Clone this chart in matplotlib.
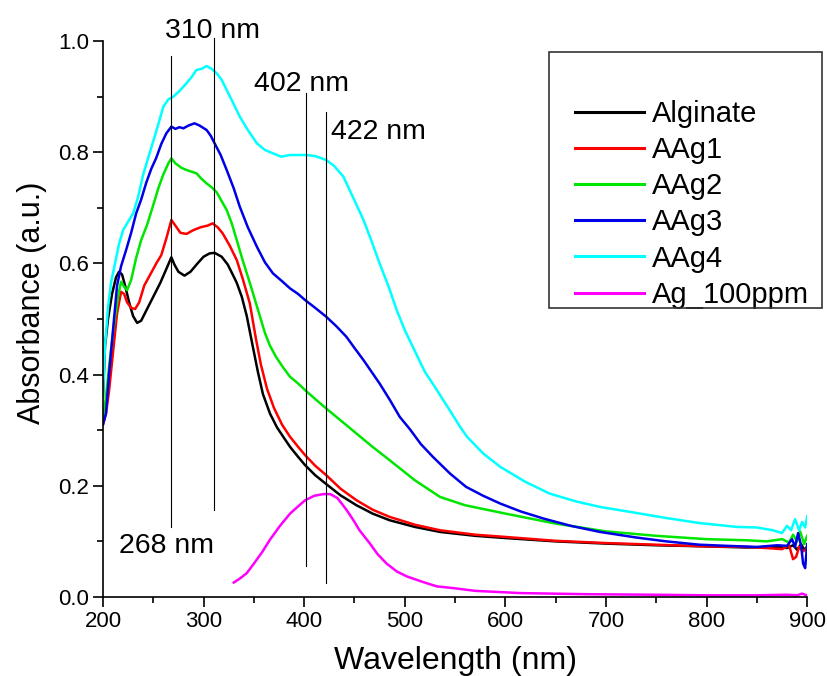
#!/usr/bin/env python3
import matplotlib
matplotlib.use("Agg")
import matplotlib.pyplot as plt
from matplotlib.patches import Rectangle
from matplotlib.ticker import MultipleLocator, FormatStrFormatter

plt.rcParams["font.family"] = ["Liberation Sans", "DejaVu Sans"]

# UV-vis spectra (wavelength nm, absorbance a.u.)
alginate_wl = [200, 202, 205, 209, 213, 216, 219, 222, 226, 230, 234, 238, 243, 250, 257, 263, 268, 271, 275, 281,
               287, 294, 300, 306, 311, 318, 324, 329, 333, 338, 343, 349, 354, 359, 366, 373, 380, 386, 394, 401,
               411, 422, 436, 452, 468, 485, 510, 535, 570, 600, 650, 700, 750, 800, 840, 870, 880, 886, 890, 894,
               897, 900]
alginate_abs = [0.36, 0.45, 0.50, 0.545, 0.575, 0.585, 0.58, 0.56, 0.53, 0.505, 0.493, 0.497, 0.515, 0.54, 0.565,
                0.59, 0.611, 0.598, 0.585, 0.578, 0.585, 0.60, 0.612, 0.618, 0.619, 0.612, 0.598, 0.58, 0.565, 0.54,
                0.505, 0.45, 0.405, 0.365, 0.33, 0.305, 0.286, 0.27, 0.252, 0.237, 0.219, 0.203, 0.183, 0.165, 0.150,
                0.138, 0.126, 0.117, 0.110, 0.106, 0.100, 0.096, 0.093, 0.091, 0.089, 0.090, 0.088, 0.093, 0.085,
                0.095, 0.085, 0.09]

aag1_wl = [200, 203, 206, 210, 214, 218, 221, 224, 228, 232, 236, 241, 247, 253, 258, 263, 268, 272, 277, 283, 290,
           297, 304, 309, 314, 319, 326, 333, 339, 346, 352, 357, 363, 370, 378, 386, 394, 401, 411, 422, 436, 452,
           468, 485, 510, 535, 570, 600, 650, 700, 750, 800, 840, 860, 875, 882, 886, 889, 892, 896, 900]
aag1_abs = [0.31, 0.33, 0.37, 0.44, 0.51, 0.549, 0.545, 0.53, 0.52, 0.518, 0.53, 0.56, 0.58, 0.60, 0.615, 0.645,
            0.678, 0.668, 0.655, 0.653, 0.66, 0.665, 0.668, 0.672, 0.665, 0.654, 0.632, 0.606, 0.572, 0.528, 0.465,
            0.418, 0.375, 0.34, 0.31, 0.288, 0.27, 0.255, 0.236, 0.219, 0.195, 0.174, 0.157, 0.144, 0.13, 0.12,
            0.112, 0.108, 0.101, 0.097, 0.094, 0.091, 0.090, 0.088, 0.086, 0.093, 0.068, 0.072, 0.09, 0.082, 0.088]

aag2_wl = [200, 203, 207, 211, 215, 218, 221, 224, 228, 233, 238, 244, 250, 255, 260, 265, 268, 272, 278, 283, 288,
           293, 298, 303, 308, 313, 318, 323, 328, 333, 339, 346, 351, 356, 361, 366, 372, 379, 386, 394, 401, 411,
           422, 436, 452, 468, 485, 510, 535, 560, 600, 650, 700, 750, 800, 840, 860, 875, 882, 886, 890, 893, 897,
           900]
aag2_abs = [0.32, 0.36, 0.43, 0.49, 0.54, 0.567, 0.558, 0.552, 0.57, 0.61, 0.642, 0.67, 0.705, 0.735, 0.76, 0.78,
            0.789, 0.78, 0.772, 0.768, 0.765, 0.762, 0.752, 0.744, 0.737, 0.728, 0.712, 0.696, 0.672, 0.642, 0.605,
            0.565, 0.535, 0.505, 0.475, 0.452, 0.432, 0.413, 0.396, 0.384, 0.372, 0.356, 0.339, 0.318, 0.294, 0.27,
            0.246, 0.21, 0.18, 0.165, 0.150, 0.132, 0.118, 0.110, 0.104, 0.102, 0.10, 0.104, 0.098, 0.112, 0.10,
            0.118, 0.095, 0.11]

aag3_wl = [200, 203, 206, 210, 214, 218, 223, 228, 233, 238, 243, 248, 253, 258, 263, 268, 272, 276, 280, 285, 291,
           296, 303, 307, 311, 317, 323, 330, 336, 344, 353, 361, 369, 378, 386, 394, 401, 411, 422, 432, 442, 450,
           459, 467, 475, 485, 495, 505, 516, 528, 545, 561, 578, 595, 615, 638, 665, 694, 730, 760, 793, 820, 850,
           870, 880, 885, 888, 891, 894, 896, 898, 900]
aag3_abs = [0.31, 0.33, 0.40, 0.48, 0.56, 0.595, 0.624, 0.655, 0.69, 0.715, 0.745, 0.77, 0.79, 0.815, 0.834, 0.846,
            0.842, 0.845, 0.843, 0.848, 0.852, 0.848, 0.84, 0.83, 0.816, 0.795, 0.768, 0.735, 0.702, 0.665, 0.63,
            0.602, 0.582, 0.568, 0.555, 0.545, 0.534, 0.52, 0.504, 0.487, 0.468, 0.448, 0.426, 0.405, 0.384, 0.355,
            0.324, 0.302, 0.275, 0.252, 0.222, 0.198, 0.182, 0.168, 0.154, 0.141, 0.128, 0.117, 0.107, 0.100,
            0.094, 0.092, 0.09, 0.093, 0.092, 0.104, 0.09, 0.115, 0.092, 0.06, 0.052, 0.095]

aag4_wl = [200, 202, 205, 208, 212, 216, 220, 225, 230, 235, 240, 245, 250, 255, 260, 265, 270, 276, 283, 288, 293,
           298, 303, 308, 313, 318, 323, 329, 336, 344, 353, 361, 369, 377, 386, 394, 402, 411, 422, 430, 439, 447,
           459, 467, 475, 484, 492, 500, 508, 520, 532, 545, 555, 562, 578, 595, 620, 644, 670, 694, 724, 760, 793,
           830, 850, 866, 875, 880, 884, 888, 892, 895, 898, 900]
aag4_abs = [0.36, 0.45, 0.52, 0.565, 0.60, 0.635, 0.66, 0.675, 0.69, 0.72, 0.76, 0.79, 0.82, 0.85, 0.882, 0.895,
            0.90, 0.91, 0.924, 0.935, 0.948, 0.95, 0.955, 0.95, 0.942, 0.93, 0.912, 0.89, 0.864, 0.84, 0.816,
            0.804, 0.798, 0.792, 0.795, 0.795, 0.795, 0.793, 0.786, 0.775, 0.756, 0.725, 0.678, 0.64, 0.60, 0.558,
            0.516, 0.48, 0.45, 0.405, 0.372, 0.335, 0.306, 0.288, 0.258, 0.234, 0.207, 0.186, 0.172, 0.162, 0.153,
            0.142, 0.133, 0.126, 0.125, 0.12, 0.115, 0.128, 0.12, 0.14, 0.12, 0.135, 0.125, 0.145]

ag_wl = [330, 336, 343, 350, 358, 366, 376, 386, 394, 401, 410, 419, 426, 433, 442, 449, 455, 465, 473, 482, 492,
         502, 518, 532, 548, 570, 615, 680, 750, 800, 850, 880, 890, 895, 898, 900]
ag_abs = [0.026, 0.033, 0.043, 0.06, 0.08, 0.103, 0.128, 0.15, 0.163, 0.174, 0.182, 0.185, 0.185, 0.178, 0.157,
          0.138, 0.12, 0.097, 0.077, 0.06, 0.046, 0.037, 0.027, 0.019, 0.016, 0.011, 0.007, 0.005, 0.004, 0.003,
          0.003, 0.004, 0.003, 0.006, 0.004, 0.003]

series_names = ["Alginate", "AAg1", "AAg2", "AAg3", "AAg4", "Ag_100ppm"]
series_colors = ["#000000", "#ff0000", "#00e600", "#0000e6", "#00ffff", "#ff00ff"]

# marker lines: wavelength, bottom, top (absorbance), label position
peak_wl = [268, 310, 402, 422]
peak_lo = [0.126, 0.156, 0.056, 0.025]
peak_hi = [0.973, 1.005, 0.906, 0.872]
peak_text_x = [216, 261.5, 350, 427]
peak_text_y = [0.079, 1.005, 0.911, 0.823]


def main() -> int:
    W, H = 827, 676
    fig = plt.figure(figsize=(W / 100, H / 100), dpi=100)
    ax = fig.add_axes([0.1245, 0.1169, 0.8515, 0.8224])

    data = [(alginate_wl, alginate_abs), (aag1_wl, aag1_abs), (aag2_wl, aag2_abs),
            (aag3_wl, aag3_abs), (aag4_wl, aag4_abs), (ag_wl, ag_abs)]
    for (wl, ab), name, color in zip(data, series_names, series_colors):
        ax.plot(wl, ab, color=color, lw=1.8, label=name)

    for wl, lo, hi, tx, ty in zip(peak_wl, peak_lo, peak_hi, peak_text_x, peak_text_y):
        ax.plot([wl, wl], [lo, hi], color="black", lw=0.8, clip_on=False)
        ax.text(tx, ty, f"{wl} nm", fontsize=20.5, va="baseline", ha="left")

    ax.set_xlim(200, 900)
    ax.set_ylim(0, 1.0)
    ax.xaxis.set_major_locator(MultipleLocator(100))
    ax.xaxis.set_minor_locator(MultipleLocator(50))
    ax.yaxis.set_major_locator(MultipleLocator(0.2))
    ax.yaxis.set_minor_locator(MultipleLocator(0.1))
    ax.yaxis.set_major_formatter(FormatStrFormatter("%.1f"))
    for side in ("top", "right"):
        ax.spines[side].set_visible(False)
    for side in ("left", "bottom"):
        ax.spines[side].set_linewidth(1.2)
    ax.tick_params(which="major", direction="out", length=7, width=1.2, labelsize=16, pad=3)
    ax.tick_params(which="minor", direction="out", length=4, width=1.2)

    ax.set_xlabel("Wavelength (nm)", fontsize=23, labelpad=10)
    ax.set_ylabel("Absorbance (a.u.)", fontsize=22, labelpad=8)
    ax.yaxis.label.set_y(0.53)

    # Origin-style legend box: frame drawn separately, blank strip above the entries
    fig.add_artist(Rectangle((549 / W, 1 - 308 / H), 273 / W, 256 / H, transform=fig.transFigure,
                             fill=False, edgecolor="#333333", linewidth=1.2))
    leg = ax.legend(loc="upper left", bbox_to_anchor=(575 / W, 1 - 100 / H),
                    bbox_transform=fig.transFigure, borderaxespad=0, borderpad=0, fontsize=21,
                    frameon=False, handlelength=2.35, handletextpad=0.3, labelspacing=0.28)
    for line in leg.get_lines():
        line.set_linewidth(2.2)

    fig.savefig("out.png", dpi=100)
    plt.close(fig)
    return 0


if __name__ == "__main__":
    raise SystemExit(main())
